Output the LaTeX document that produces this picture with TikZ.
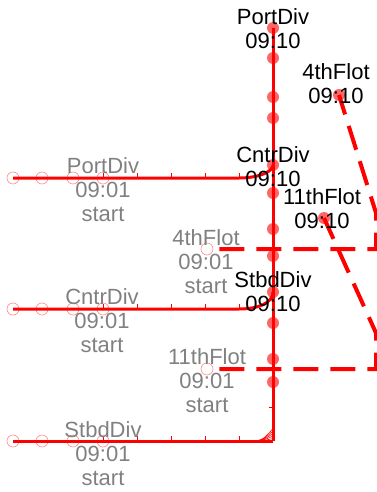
\documentclass[tikz,border=0pt]{standalone}
\usepackage{fontspec}
\setmainfont{Liberation Sans}

\begin{document}
\begin{tikzpicture}[x=1pt,y=-1pt,
		track/.style={red,line width=3pt},
		plan/.style={red,line width=4pt,dash pattern=on 25pt off 12pt},
		stop/.style={circle,fill=red,fill opacity=0.6,inner sep=0pt,minimum size=12pt},
		origin/.style={circle,draw=red!45,line width=0.6pt,inner sep=0pt,minimum size=12pt},
		now/.style={align=center,inner sep=0pt,font=\fontsize{22}{24}\selectfont},
		past/.style={now,text=black!50}]
		\useasboundingbox (0,0) rectangle (377,492);
		
		% stops on the main line
		\foreach \y [count=\i] in {28,58,97,118,165,193,229,256,292,323,359,382}
			\node[stop] (d\i) at (273,\y) {};
		\coordinate (corner) at (273,441);
		\draw[track] (corner) -- (d1.center);
		\draw[red,line width=1pt] (273,407) -- (269,407);
		
		% divisions coming in from the left
		\foreach \n/\y/\e in {p/178/5,c/309/9}{
			\foreach \x [count=\j] in {13,42,73,103}
				\node[origin] (\n\j) at (\x,\y) {};
			\coordinate (\n b) at (239,\y);
			\draw[track] (\n1.center) -- (\n b) .. controls (258,\y) and (273,\y-6) .. (d\e.center);
			\foreach \x in {103,137,171,205,239}
				\draw[red,line width=1pt] (\x,\y) -- (\x,\y-5);
		}
		\foreach \x [count=\j] in {13,42,73,103}
			\node[origin] (s\j) at (\x,441) {};
		\coordinate (sb) at (245,441);
		\draw[track] (s1.center) -- (sb) -- (corner);
		\foreach \k in {0,...,5}
			\draw[red,line width=0.6pt] (sb) .. controls (262,441) .. (273,{441-2.5*\k});
		\foreach \x in {103,137,171,205,239}
			\draw[red,line width=1pt] (\x,441) -- (\x,436);
		
		% flotillas
		\node[origin] (f1) at (207,249) {};
		\node[origin] (e1) at (207,369) {};
		\node[stop] (f2) at (339,95) {};
		\node[stop] (e2) at (324,218) {};
		\coordinate (fa) at (376,249);
		\coordinate (fb) at (376,213);
		\coordinate (ea) at (376,369);
		\coordinate (eb) at (376,333);
		\draw[plan,dash phase=-6pt] (f1.east) -- (fa) -- (fb) -- (f2.center);
		\draw[plan,dash phase=-6pt] (e1.east) -- (ea) -- (eb) -- (e2.center);
		
		% labels
		\node[now] (tp) at (273,29) {PortDiv\\09:10};
		\node[now] (tf) at (336,84) {4thFlot\\09:10};
		\node[now] (tc) at (273,167) {CntrDiv\\09:10};
		\node[now] (te) at (322,209) {11thFlot\\09:10};
		\node[now] (ts) at (273,292) {StbdDiv\\09:10};
		\node[past] (sp) at (103,190) {PortDiv\\09:01\\start};
		\node[past] (sf) at (206,262) {4thFlot\\09:01\\start};
		\node[past] (sc) at (102,321) {CntrDiv\\09:01\\start};
		\node[past] (se) at (207,381) {11thFlot\\09:01\\start};
		\node[past] (ss) at (103,454) {StbdDiv\\09:01\\start};
\end{tikzpicture}
\end{document}
